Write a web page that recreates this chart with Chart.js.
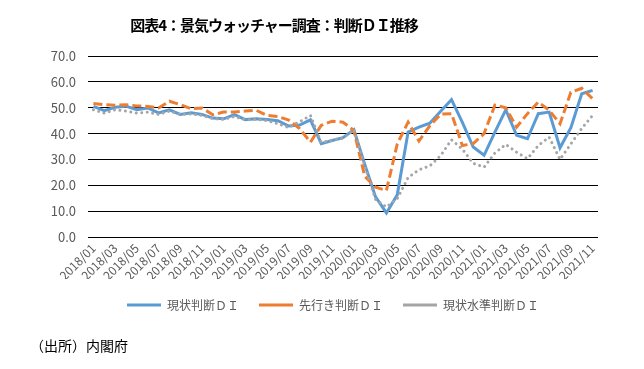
<!DOCTYPE html>
<html lang="ja">
<head>
  <meta charset="UTF-8">
  <title>景気ウォッチャー調査</title>
  <style>
    body {
      margin: 0;
      background: #fff;
      font-family: "Noto Sans CJK JP", sans-serif;
    }
    #wrap {
      position: relative;
      width: 644px;
      height: 369px;
    }
    #title {
      position: absolute;
      top: 14px;
      left: 128px;
      width: 292px;
      text-align: center;
      font-size: 15px;
      font-weight: bold;
      letter-spacing: -1px;
      color: #000;
      white-space: nowrap;
    }
    #source {
      position: absolute;
      left: 30px;
      top: 335px;
      font-size: 14px;
      color: #000;
    }
    canvas {
      position: absolute;
      left: 0;
      top: 0;
    }
  </style>
  <script src="https://cdn.jsdelivr.net/npm/chart.js"></script>
</head>
<body>
  <div id="wrap">
    <canvas id="chart" width="644" height="369"></canvas>
    <div id="title">図表4：景気ウォッチャー調査：判断ＤＩ推移</div>
    <div id="source">（出所）内閣府</div>
  </div>

  <script>
    const months = [
      "2018/01", "2018/02", "2018/03", "2018/04", "2018/05", "2018/06", "2018/07", "2018/08", "2018/09", "2018/10", "2018/11", "2018/12",
      "2019/01", "2019/02", "2019/03", "2019/04", "2019/05", "2019/06", "2019/07", "2019/08", "2019/09", "2019/10", "2019/11", "2019/12",
      "2020/01", "2020/02", "2020/03", "2020/04", "2020/05", "2020/06", "2020/07", "2020/08", "2020/09", "2020/10", "2020/11", "2020/12",
      "2021/01", "2021/02", "2021/03", "2021/04", "2021/05", "2021/06", "2021/07", "2021/08", "2021/09", "2021/10", "2021/11"
    ];

    // 現状判断DI
    const genjo = [
      50.5, 48.9, 50.2, 50.6, 49.2, 49.9, 48.0, 49.2, 47.4, 48.0, 47.4, 46.0,
      45.7, 47.3, 45.4, 45.7, 45.4, 45.0, 42.9, 43.3, 45.3, 36.1, 37.3, 38.4,
      41.5, 28.2, 15.5, 9.3, 16.3, 40.6, 42.5, 44.0, 48.6, 53.1, 44.3, 34.8,
      31.6, 40.6, 49.2, 39.3, 38.0, 47.7, 48.3, 34.5, 42.3, 55.4, 56.7
    ];

    // 先行き判断DI
    const sakiyuki = [
      51.6, 51.2, 51.0, 51.1, 50.7, 50.5, 49.9, 52.5, 51.2, 49.6, 49.9, 47.3,
      48.3, 48.3, 48.7, 49.0, 47.0, 46.6, 45.2, 41.9, 36.7, 43.2, 44.8, 44.4,
      41.2, 23.5, 19.3, 18.0, 36.0, 44.4, 37.1, 43.0, 47.5, 47.7, 35.4, 36.1,
      40.0, 51.0, 50.0, 42.5, 47.7, 52.2, 49.0, 43.8, 56.0, 57.5, 53.5
    ];

    // 現状水準判断DI
    const suijun = [
      49.2, 47.9, 49.2, 48.7, 47.9, 48.3, 47.4, 48.7, 47.4, 47.6, 47.0, 45.8,
      45.5, 46.6, 45.3, 45.5, 45.0, 43.8, 42.3, 44.6, 47.0, 36.5, 37.5, 38.2,
      41.5, 27.5, 14.5, 11.6, 14.8, 23.0, 26.0, 27.5, 31.5, 37.6, 34.0, 28.5,
      27.0, 32.5, 35.8, 32.8, 30.3, 35.4, 38.6, 30.0, 36.0, 42.0, 47.0
    ];

    const seriesNames = ["現状判断ＤＩ", "先行き判断ＤＩ", "現状水準判断ＤＩ"];

    // 凡例をプロット中央寄りにずらす
    const legendShift = {
      id: 'legendShift',
      afterLayout(chart) {
        chart.legend.left += 34;
        chart.legend.right += 34;
      }
    };

    const ctx = document.getElementById("chart").getContext("2d");
    new Chart(ctx, {
      type: 'line',
      data: {
        labels: months,
        datasets: [
          {
            label: seriesNames[0],
            data: genjo,
            borderColor: '#5B9BD5',
            borderWidth: 3,
            order: 3
          },
          {
            label: seriesNames[1],
            data: sakiyuki,
            borderColor: '#ED7D31',
            borderWidth: 3,
            borderDash: [9, 4],
            order: 2
          },
          {
            label: seriesNames[2],
            data: suijun,
            borderColor: '#A5A5A5',
            borderWidth: 3,
            borderDash: [0.01, 5.5],
            borderCapStyle: 'round',
            order: 1
          }
        ]
      },
      plugins: [legendShift],
      options: {
        responsive: false,
        animation: false,
        events: [],
        elements: {
          point: { radius: 0 },
          line: { tension: 0, fill: false }
        },
        layout: {
          padding: { left: 0, right: 46, top: 56, bottom: 48 }
        },
        plugins: {
          title: { display: false },
          tooltip: { enabled: false },
          legend: {
            position: 'bottom',
            labels: {
              usePointStyle: true,
              pointStyle: 'line',
              pointStyleWidth: 34,
              padding: 20,
              color: '#595959',
              font: { family: '"Noto Sans CJK JP", sans-serif', size: 12 },
              sort: (a, b) => a.datasetIndex - b.datasetIndex
            }
          }
        },
        scales: {
          x: {
            offset: true,
            grid: { display: false, drawTicks: false },
            border: { display: false },
            afterFit: (scale) => { scale.height = 42; },
            ticks: {
              autoSkip: false,
              maxRotation: 45,
              minRotation: 45,
              padding: 4,
              color: '#595959',
              font: { family: '"Noto Sans CJK JP", sans-serif', size: 12 },
              callback: (v, i) => (i % 2 === 0 ? months[i] : '')
            }
          },
          y: {
            min: 0,
            max: 70,
            afterFit: (scale) => { scale.width = 88; },
            grid: { color: '#000000', lineWidth: 1, drawTicks: false },
            border: { display: false },
            ticks: {
              stepSize: 10,
              padding: 12,
              color: '#595959',
              font: { family: '"Noto Sans CJK JP", sans-serif', size: 13 },
              callback: (v) => v.toFixed(1)
            }
          }
        }
      }
    });
  </script>
</body>
</html>
